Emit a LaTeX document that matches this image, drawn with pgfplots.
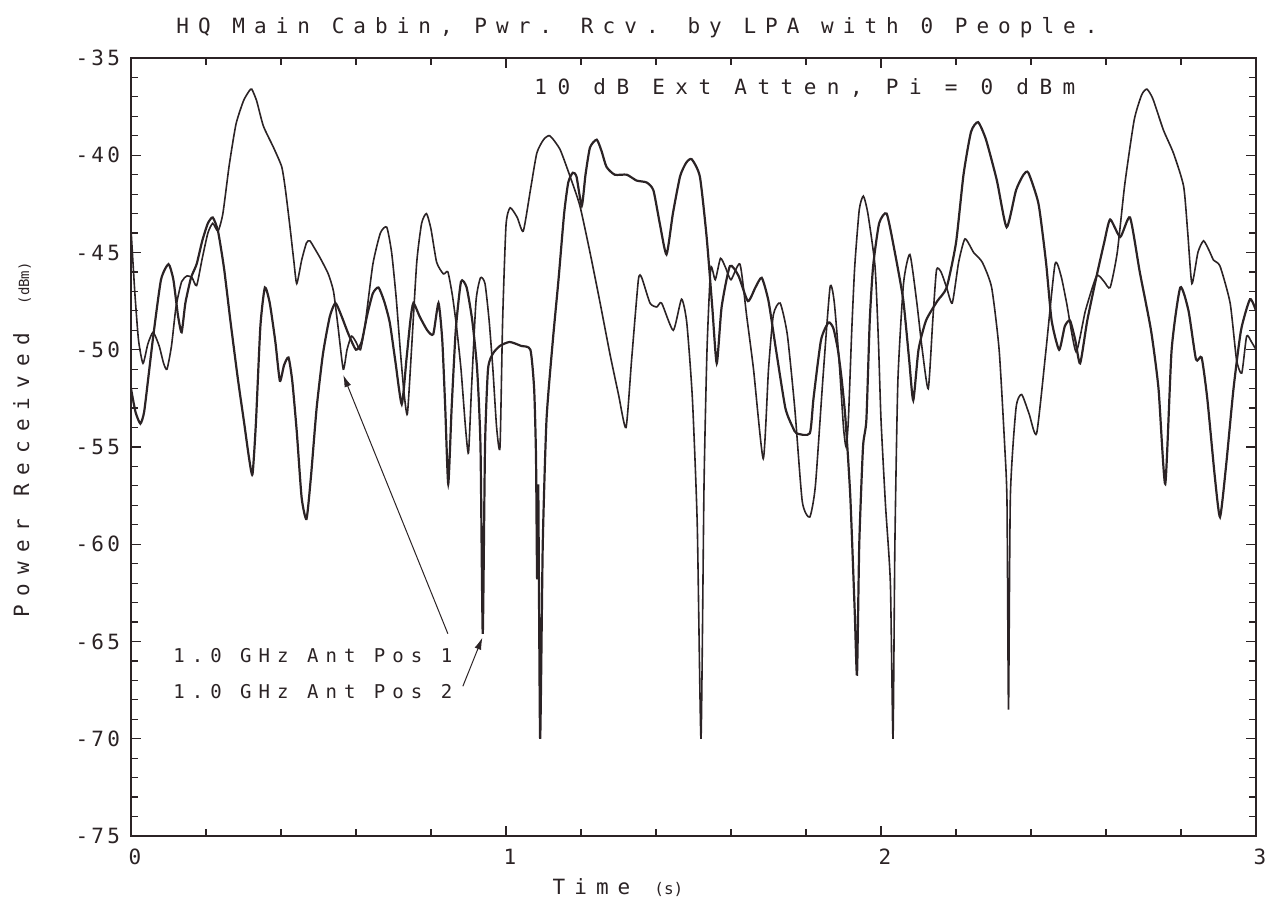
\documentclass[border=0pt]{standalone}
\usepackage{fontspec}
\setmainfont{DejaVu Sans Mono}
\newfontfamily\titlefont{DejaVu Sans Mono}[LetterSpace=43]
\newfontfamily\attfont{DejaVu Sans Mono}[LetterSpace=50]
\newfontfamily\annfont{DejaVu Sans Mono}[LetterSpace=37]
\newfontfamily\tickfont{DejaVu Sans Mono}[LetterSpace=15]
\usepackage{pgfplots}
\pgfplotsset{compat=1.18}
\usetikzlibrary{arrows.meta}
\definecolor{ink}{HTML}{2B2325}
\begin{document}
\begin{tikzpicture}
\useasboundingbox (0,0) rectangle (634pt,452pt);
\begin{axis}[
  at={(65.5pt,34pt)}, anchor=south west,
  scale only axis, width=562.5pt, height=389pt,
  xmin=0, xmax=3, ymin=-75, ymax=-35,
  xtick={0,1,2,3}, xticklabels={0,1,2,3},
  minor x tick num=4,
  ytick={-75,-70,-65,-60,-55,-50,-45,-40,-35},
  yticklabels={-75,-70,-65,-60,-55,-50,-45,-40,-35},
  minor y tick num=4,
  tick align=inside,
  major tick length=5pt, minor tick length=3.5pt,
  axis line style={line width=0.9pt, ink},
  tick style={line width=0.6pt, ink},
  tick label style={font=\tickfont\fontsize{10.5}{12}\selectfont, text=ink},
  xticklabel style={yshift=-3pt, xshift=2pt},
  yticklabel style={xshift=-2pt},
  clip=true,
]
\addplot[ink, line width=0.8pt, smooth, tension=0.35] coordinates {
(0.000,-43.8) (0.010,-47.0) (0.020,-49.5) (0.032,-50.7) (0.045,-49.7) (0.059,-49.1)
(0.075,-49.8) (0.087,-50.7) (0.096,-51.0) (0.108,-49.8) (0.120,-47.8) (0.135,-46.5)
(0.150,-46.2) (0.163,-46.3) (0.175,-46.7) (0.190,-45.3) (0.205,-44.0) (0.218,-43.5)
(0.232,-43.9) (0.245,-43.0) (0.262,-40.5) (0.280,-38.4) (0.300,-37.2) (0.315,-36.7)
(0.322,-36.6) (0.335,-37.2) (0.353,-38.5) (0.380,-39.6) (0.402,-40.6) (0.412,-41.8)
(0.424,-43.7) (0.434,-45.4) (0.442,-46.6) (0.455,-45.4) (0.468,-44.5) (0.477,-44.4)
(0.490,-44.8) (0.505,-45.3) (0.526,-46.1) (0.540,-47.0) (0.552,-48.8) (0.566,-51.0)
(0.576,-50.0) (0.588,-49.3) (0.600,-49.6) (0.612,-50.0) (0.625,-48.6) (0.645,-45.6)
(0.665,-44.0) (0.682,-43.7) (0.695,-45.0) (0.707,-47.3) (0.718,-50.0) (0.728,-52.2)
(0.737,-53.3) (0.748,-50.0) (0.762,-45.5) (0.775,-43.5) (0.788,-43.0) (0.800,-43.8)
(0.815,-45.5) (0.833,-46.1) (0.845,-46.0) (0.857,-47.2) (0.868,-48.8) (0.880,-51.0)
(0.892,-54.0) (0.900,-55.3) (0.908,-52.0) (0.920,-47.5) (0.932,-46.3) (0.944,-46.6)
(0.955,-48.5) (0.965,-51.0) (0.975,-54.0) (0.984,-55.0) (0.991,-48.5) (1.000,-43.6)
(1.011,-42.7) (1.030,-43.2) (1.046,-43.9) (1.065,-41.8) (1.082,-39.9) (1.100,-39.2)
(1.117,-39.0) (1.144,-39.7) (1.171,-41.1) (1.197,-42.6) (1.224,-45.0) (1.251,-47.6)
(1.277,-50.2) (1.300,-52.3) (1.320,-54.0) (1.335,-50.5) (1.353,-46.4) (1.362,-46.3)
(1.384,-47.6) (1.402,-47.8) (1.415,-47.6) (1.446,-49.0) (1.468,-47.4) (1.482,-48.6)
(1.497,-52.5) (1.510,-59.0) (1.520,-70.0) (1.528,-57.0) (1.536,-50.0) (1.546,-45.8)
(1.558,-46.4) (1.572,-45.3) (1.586,-45.8) (1.600,-46.4) (1.624,-45.6) (1.642,-48.3)
(1.660,-51.0) (1.686,-55.6) (1.700,-51.0) (1.713,-48.2) (1.731,-47.6) (1.750,-49.2)
(1.770,-53.0) (1.790,-57.8) (1.810,-58.6) (1.825,-57.0) (1.845,-51.5) (1.864,-46.8)
(1.875,-47.5) (1.888,-50.5) (1.900,-54.0) (1.907,-55.0) (1.913,-53.6) (1.922,-49.0)
(1.930,-45.7) (1.942,-42.8) (1.953,-42.1) (1.965,-43.0) (1.984,-45.7) (1.993,-49.5)
(2.000,-53.6) (2.012,-58.0) (2.025,-62.0) (2.032,-70.0) (2.037,-60.0) (2.045,-51.6)
(2.060,-46.6) (2.077,-45.1) (2.095,-47.5) (2.110,-50.0) (2.126,-52.0) (2.138,-48.5)
(2.148,-45.9) (2.160,-46.0) (2.175,-46.8)
(2.190,-47.6) (2.207,-45.5) (2.224,-44.3) (2.247,-45.0) (2.270,-45.5) (2.295,-46.8)
(2.315,-50.0) (2.330,-55.0) (2.336,-57.9) (2.340,-68.5) (2.345,-57.5) (2.360,-53.0)
(2.375,-52.3) (2.395,-53.3) (2.415,-54.3) (2.440,-50.0) (2.464,-45.6) (2.480,-46.2)
(2.495,-47.6) (2.520,-50.1) (2.545,-48.0) (2.575,-46.2) (2.595,-46.5) (2.611,-46.8)
(2.630,-45.0) (2.650,-41.5) (2.675,-38.2) (2.695,-36.9) (2.709,-36.6) (2.725,-37.1)
(2.753,-38.7) (2.780,-39.9) (2.807,-41.6) (2.818,-44.0) (2.829,-46.6) (2.845,-45.0)
(2.860,-44.4) (2.875,-44.9) (2.887,-45.4) (2.904,-45.7) (2.931,-47.6) (2.948,-50.5)
(2.962,-51.2) (2.975,-49.3) (2.988,-49.6) (3.000,-50.0)
};
\addplot[ink, line width=1.1pt, smooth, tension=0.35] coordinates {
(0.000,-52.0) (0.012,-53.2) (0.025,-53.8) (0.035,-53.2) (0.047,-51.3) (0.060,-49.2)
(0.080,-46.4) (0.100,-45.6) (0.113,-46.4) (0.125,-48.2) (0.135,-49.1) (0.145,-47.6)
(0.160,-46.3) (0.175,-45.6) (0.190,-44.4) (0.205,-43.5) (0.218,-43.2) (0.232,-43.9)
(0.248,-45.8) (0.265,-48.5) (0.285,-51.5) (0.302,-53.8) (0.315,-55.6) (0.324,-56.4)
(0.333,-53.8) (0.345,-48.8) (0.357,-46.8) (0.370,-47.6) (0.385,-49.6) (0.397,-51.6)
(0.408,-50.8) (0.420,-50.4) (0.430,-51.6) (0.442,-54.2) (0.455,-57.6) (0.468,-58.7)
(0.480,-56.5) (0.495,-53.0) (0.512,-50.2) (0.530,-48.3) (0.545,-47.6) (0.560,-48.2)
(0.580,-49.2) (0.600,-50.0) (0.615,-49.6) (0.630,-48.2) (0.645,-47.1) (0.660,-46.8)
(0.675,-47.5) (0.690,-48.6) (0.705,-50.6) (0.722,-52.8) (0.735,-50.4) (0.745,-48.5)
(0.753,-47.6) (0.770,-48.3) (0.790,-49.0) (0.806,-49.2) (0.820,-47.6) (0.830,-49.5)
(0.838,-53.0) (0.846,-56.9) (0.855,-53.0) (0.866,-49.0) (0.880,-46.5) (0.895,-46.8)
(0.910,-48.5) (0.923,-51.0) (0.932,-55.0) (0.938,-64.6) (0.944,-55.0) (0.952,-51.0)
(0.965,-50.2) (0.984,-49.8) (1.010,-49.6) (1.040,-49.8) (1.065,-50.0) (1.075,-52.0)
(1.080,-55.5) (1.083,-61.8) (1.086,-57.0) (1.091,-70.0) (1.098,-60.0) (1.108,-53.6)
(1.125,-49.5) (1.140,-46.4) (1.155,-43.0) (1.166,-41.4) (1.178,-40.9) (1.188,-41.1)
(1.202,-42.6) (1.212,-41.0) (1.224,-39.6) (1.242,-39.2) (1.255,-39.8) (1.268,-40.6)
(1.290,-41.0) (1.322,-41.0) (1.348,-41.3) (1.375,-41.4) (1.393,-41.8) (1.410,-43.5)
(1.428,-45.1) (1.445,-43.0) (1.464,-41.1) (1.480,-40.4) (1.495,-40.2) (1.517,-41.1)
(1.535,-44.2) (1.550,-47.8) (1.562,-50.7) (1.575,-47.8) (1.597,-45.7) (1.620,-46.2)
(1.645,-47.5) (1.665,-46.8) (1.682,-46.3) (1.700,-47.5) (1.720,-50.0) (1.745,-53.0)
(1.765,-54.0) (1.775,-54.3) (1.810,-54.3) (1.820,-52.5) (1.840,-49.5) (1.860,-48.6)
(1.873,-48.9) (1.885,-50.0) (1.895,-51.5) (1.905,-53.5) (1.918,-57.5) (1.930,-63.5)
(1.936,-66.7) (1.942,-60.0) (1.952,-55.0) (1.961,-53.6) (1.970,-48.5) (1.979,-45.7)
(1.995,-43.5) (2.015,-43.0) (2.035,-44.8) (2.059,-47.4) (2.075,-50.5) (2.086,-52.6)
(2.100,-50.0) (2.120,-48.5) (2.150,-47.5) (2.175,-46.8)
(2.200,-44.5) (2.220,-41.0) (2.240,-38.8) (2.259,-38.3) (2.280,-39.2) (2.309,-41.3)
(2.335,-43.7) (2.360,-41.8) (2.380,-41.0) (2.393,-40.9) (2.420,-42.5) (2.440,-45.5)
(2.455,-48.5) (2.475,-50.0) (2.490,-48.8) (2.504,-48.5) (2.518,-49.5) (2.531,-50.7)
(2.550,-48.5) (2.575,-46.2) (2.595,-44.5) (2.611,-43.3) (2.638,-44.2) (2.664,-43.2)
(2.690,-46.0) (2.720,-49.0) (2.740,-52.0) (2.758,-56.9) (2.775,-50.0) (2.798,-46.8)
(2.820,-48.0) (2.840,-50.5) (2.855,-50.4) (2.870,-52.5) (2.890,-56.5) (2.904,-58.6)
(2.920,-56.0) (2.940,-52.0) (2.960,-49.0) (2.984,-47.4) (3.000,-48.0)
};
% annotations
\node[anchor=west, text=ink, font=\annfont\fontsize{9.5}{11}\selectfont, inner sep=0pt]
  at (axis cs:0.112,-65.7) {1.0 GHz Ant Pos 1};
\node[anchor=west, text=ink, font=\annfont\fontsize{9.5}{11}\selectfont, inner sep=0pt]
  at (axis cs:0.112,-67.6) {1.0 GHz Ant Pos 2};
\draw[ink, line width=0.5pt, -{Latex[length=6pt,width=3.5pt]}] (axis cs:0.845,-64.6) -- (axis cs:0.566,-51.3);
\draw[ink, line width=0.5pt, -{Latex[length=6pt,width=3.5pt]}] (axis cs:0.885,-67.3) -- (axis cs:0.937,-64.8);
\node[text=ink, font=\attfont\fontsize{10.5}{12}\selectfont, inner sep=0pt]
  at (axis cs:1.797,-36.55) {10 dB Ext Atten, Pi = 0 dBm};
\end{axis}
\node[text=ink, font=\titlefont\fontsize{10.5}{12}\selectfont, inner sep=0pt] at (318.5pt,438pt)
  {HQ Main Cabin, Pwr. Rcv. by LPA with 0 People.};
\node[text=ink, inner sep=0pt] at (309pt,8pt)
  {{\titlefont\fontsize{10.5}{12}\selectfont Time}\hspace{12pt}{\fontsize{8}{10}\selectfont (s)}};
\node[text=ink, inner sep=0pt, rotate=90] at (11pt,232pt)
  {{\titlefont\fontsize{10.5}{12}\selectfont Power Received}\hspace{14pt}{\fontsize{7}{9}\selectfont (dBm)}};
\end{tikzpicture}
\end{document}
